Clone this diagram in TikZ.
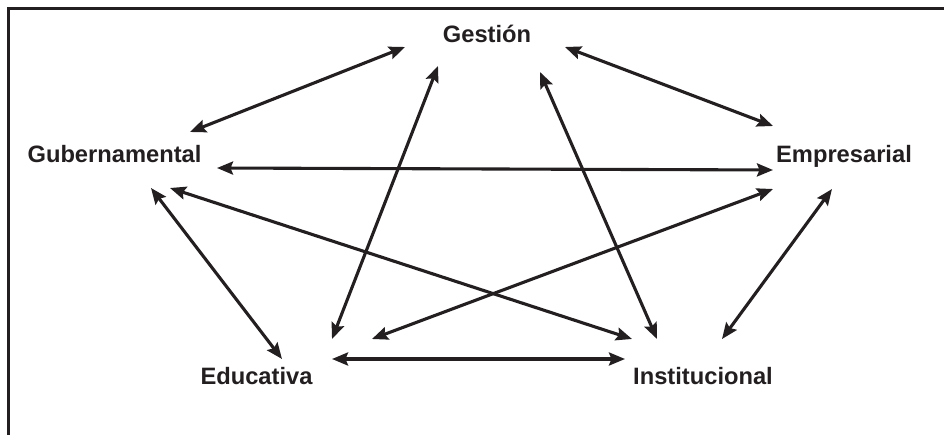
\documentclass[tikz,border=0pt]{standalone}
\usepackage{fontspec}
\setmainfont{Liberation Sans}
\usetikzlibrary{arrows.meta}
\definecolor{ink}{HTML}{231F20}
\begin{document}
\begin{tikzpicture}[x=1pt,y=-1pt,
  lbl/.style={anchor=base,inner sep=0pt,text=ink,font=\fontsize{23.7}{28}\selectfont\bfseries},
  link/.style={draw=ink,line width=3.1pt,{Stealth[length=16pt,width=13pt,inset=2.5pt]}-{Stealth[length=16pt,width=13pt,inset=2.5pt]}},
  frame/.style={draw=ink,line width=3pt}]
\useasboundingbox (0,0) rectangle (944,435);
\coordinate (c1) at (944,8.5);
\coordinate (c0) at (8.5,8.5);
\coordinate (c2) at (8.5,435);
\draw[frame] (c1) -- (c0) -- (c2);

\node[lbl] (G) at (487,43) {Gestión};
\node[lbl] (U) at (114.5,163) {Gubernamental};
\node[lbl] (M) at (844,163) {Empresarial};
\node[lbl] (E) at (256.5,384) {Educativa};
\node[lbl] (I) at (703,384) {Institucional};

% arrow ends, relative to each label
\path (G.base) ++(-82,4) coordinate (G-u);
\path (G.base) ++(-49,23) coordinate (G-e);
\path (G.base) ++(53,29) coordinate (G-i);
\path (G.base) ++(78,4) coordinate (G-m);

\path (U.base) ++(75.5,-31) coordinate (U-g);
\path (U.base) ++(102.5,5) coordinate (U-m);
\path (U.base) ++(55.5,25) coordinate (U-i);
\path (U.base) ++(36.5,25) coordinate (U-e);

\path (M.base) ++(-71,-37) coordinate (M-g);
\path (M.base) ++(-71,7) coordinate (M-u);
\path (M.base) ++(-71,26) coordinate (M-e);
\path (M.base) ++(-12,26) coordinate (M-i);

\path (E.base) ++(25.5,-25) coordinate (E-u);
\path (E.base) ++(75.5,-45) coordinate (E-g);
\path (E.base) ++(115.5,-45) coordinate (E-m);
\path (E.base) ++(75.5,-25) coordinate (E-i);

\path (I.base) ++(-71,-45) coordinate (I-u);
\path (I.base) ++(-46,-45) coordinate (I-g);
\path (I.base) ++(19,-45) coordinate (I-m);
\path (I.base) ++(-78,-25) coordinate (I-e);

\draw[link] (G-u) -- (U-g);
\draw[link] (G-e) -- (E-g);
\draw[link] (G-i) -- (I-g);
\draw[link] (G-m) -- (M-g);
\draw[link] (U-m) -- (M-u);
\draw[link] (U-i) -- (I-u);
\draw[link] (U-e) -- (E-u);
\draw[link] (M-e) -- (E-m);
\draw[link] (M-i) -- (I-m);
\draw[link] (E-i) -- (I-e);
\end{tikzpicture}
\end{document}
